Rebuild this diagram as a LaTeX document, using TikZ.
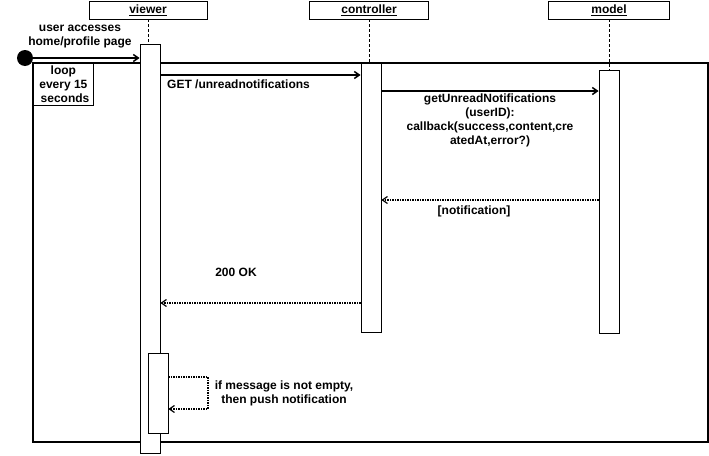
\documentclass[tikz,border=0pt]{standalone}
\usepackage{fontspec}
\setmainfont{Liberation Sans}
\usetikzlibrary{arrows.meta}

\begin{document}
\begin{tikzpicture}[x=1pt,y=-1pt,font=\bfseries\fontsize{12}{14}\selectfont,
 head/.style={draw,line width=.8pt,minimum width=#1,minimum height=18pt,inner sep=0pt},
 bar/.style={draw,fill=white,line width=.8pt,minimum width=20pt,inner sep=0pt},
 life/.style={densely dashed,line width=.8pt},
 msg/.style={-{Straight Barb[length=5pt,width=7pt]},line width=1.5pt},
 reply/.style={msg,densely dotted,line width=1.2pt},
 lbl/.style={align=center,inner sep=0pt}]
\useasboundingbox (0,0) rectangle (709,455);
% participants
\foreach \name/\x/\w/\txt in {view/148/118/viewer,ctrl/369/119/controller,mod/609/121/model}
 \node[head=\w] (\name) at (\x,10) {\underline{\txt}};
% loop frame
\draw[line width=1.2pt] (33,63) rectangle (708,442);
\node[draw,line width=.8pt,fill=white,minimum width=60pt,minimum height=42pt,lbl,anchor=north west] (loop) at (33,63) {loop\\every 15\\\ seconds};
% activation bars
\node[bar,minimum height=409pt,anchor=north] (vbar) at (150,44) {};
\node[bar,minimum height=269pt,anchor=north] (cbar) at (371,63) {};
\node[bar,minimum height=263pt,anchor=north] (mbar) at (609,70) {};
\node[bar,minimum height=80pt,anchor=north] (vsub) at (158,353) {};
\draw[life] (view.south)--(view.south|-vbar.north);
\draw[life] (ctrl.south)--(ctrl.south|-cbar.north);
\draw[life] (mod.south)--(mod.south|-mbar.north);
% start
\fill (25,58) circle (8pt) coordinate (start);
\draw[msg] (start)--(start-|vbar.west);
\node[lbl] (enter) at (80,37) {user accesses\\home/profile page};
% requests
\coordinate (get) at (0,75);
\draw[msg] (get-|vbar.east)--(get-|cbar.west);
\node[lbl,anchor=west] (getlbl) at (167,84) {GET /unreadnotifications};
\coordinate (call) at (0,91);
\draw[msg] (call-|cbar.east)--(call-|mbar.west);
\node[lbl] (calllbl) at (490,120) {getUnreadNotifications\\(userID):\\callback(success,content,cre\\atedAt,error?)};
% replies
\coordinate (ret) at (0,200);
\draw[reply] (ret-|mbar.west)--(ret-|cbar.east);
\node[lbl] (retlbl) at (474,211) {[notification]};
\coordinate (ok) at (0,303);
\draw[reply] (ok-|cbar.west)--(ok-|vbar.east);
\node[lbl] (oklbl) at (236,272) {200 OK};
% self call
\coordinate (loopback) at (208,0);
\draw[reply] (vsub.east|-0,377)-|(loopback|-0,393)|-(vsub.east|-0,409);
\node[lbl] (pushlbl) at (284,393) {if message is not empty,\\then push notification};
\end{tikzpicture}
\end{document}
